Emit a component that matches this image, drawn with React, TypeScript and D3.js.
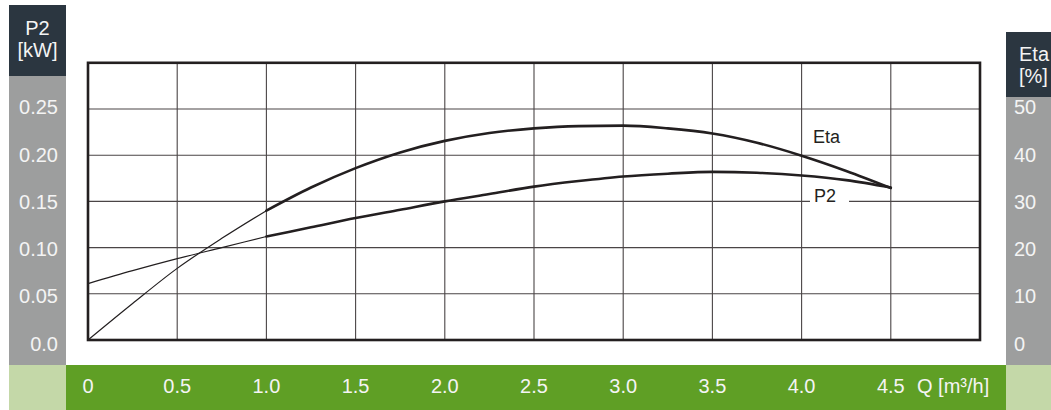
import React from 'react';
import * as d3 from 'd3';

// Pump performance: flow Q [m³/h] vs shaft power P2 [kW] and efficiency Eta [%]
const flowQ = [0, 0.25, 0.5, 0.75, 1.0, 1.25, 1.5, 1.75, 2.0, 2.25, 2.5, 2.75, 3.0, 3.25, 3.5, 3.75, 4.0, 4.25, 4.5];
const powerP2 = [0.061, 0.075, 0.088, 0.1, 0.112, 0.122, 0.132, 0.141, 0.15, 0.158, 0.166, 0.172, 0.177, 0.18, 0.182, 0.181, 0.178, 0.173, 0.165];
const efficiencyEta = [0, 7.9, 15.5, 22.0, 28.0, 33.0, 37.2, 40.6, 43.1, 44.8, 45.8, 46.3, 46.4, 45.8, 44.7, 42.7, 39.9, 36.6, 32.9];

const qTicks = [0, 0.5, 1.0, 1.5, 2.0, 2.5, 3.0, 3.5, 4.0, 4.5];
const qTickLabels = ['0', '0.5', '1.0', '1.5', '2.0', '2.5', '3.0', '3.5', '4.0', '4.5'];
const p2Ticks = [0, 0.05, 0.1, 0.15, 0.2, 0.25];
const p2TickLabels = ['0.0', '0.05', '0.10', '0.15', '0.20', '0.25'];
const etaTicks = [0, 10, 20, 30, 40, 50];
const etaTickLabels = ['0', '10', '20', '30', '40', '50'];

const FONT = "'Liberation Sans', Arial, Helvetica, sans-serif";
const DARK = '#2b3640';
const GRAY = '#9d9e9e';
const GREEN = '#5f9f25';
const LIGHT_GREEN = '#c4d8a8';
const INK = '#231f20';
const PANEL_TEXT = '#f4f4f4';

export default function App() {
  const W = 1051;
  const H = 410;

  const x = d3.scaleLinear().domain([0, 5]).range([88, 980]);
  const yP = d3.scaleLinear().domain([0, 0.3]).range([340, 62.8]);
  const yE = d3.scaleLinear().domain([0, 60]).range([340, 62.8]);
  // side-panel label placement
  const yLabelP = d3.scaleLinear().domain([0, 0.25]).range([343.5, 107]);
  const yLabelE = d3.scaleLinear().domain([0, 50]).range([343.5, 107]);

  const pts = flowQ.map((q, i) => ({ q, p: powerP2[i], e: efficiencyEta[i] }));
  const thin = pts.filter((d) => d.q <= 1.0);
  const thick = pts.filter((d) => d.q >= 1.0);

  const lineP = d3
    .line<{ q: number; p: number; e: number }>()
    .x((d) => x(d.q))
    .y((d) => yP(d.p))
    .curve(d3.curveMonotoneX);
  const lineE = d3
    .line<{ q: number; p: number; e: number }>()
    .x((d) => x(d.q))
    .y((d) => yE(d.e))
    .curve(d3.curveMonotoneX);

  const gridQ = [0.5, 1.0, 1.5, 2.0, 2.5, 3.0, 3.5, 4.0, 4.5];
  const gridP = [0.05, 0.1, 0.15, 0.2, 0.25];

  return (
    <svg
      width={W}
      height={H}
      viewBox={`0 0 ${W} ${H}`}
      style={{ position: 'absolute', left: 0, top: 0, fontFamily: FONT }}
    >
      <rect x={0} y={0} width={W} height={H} fill="#ffffff" />

      {/* left panel */}
      <rect x={9} y={5} width={57} height={71} fill={DARK} />
      <rect x={9} y={76} width={57} height={289} fill={GRAY} />
      <rect x={9} y={365} width={57} height={45} fill={LIGHT_GREEN} />
      <text x={37.5} y={35} textAnchor="middle" fontSize={20} fill={PANEL_TEXT}>P2</text>
      <text x={37.5} y={57} textAnchor="middle" fontSize={20} fill={PANEL_TEXT}>[kW]</text>
      {p2Ticks.map((v, i) => (
        <text key={`pl${i}`} x={58} y={yLabelP(v)} dy="0.36em" textAnchor="end" fontSize={20} fill={PANEL_TEXT}>
          {p2TickLabels[i]}
        </text>
      ))}

      {/* right panel */}
      <rect x={1006} y={32} width={45} height={65} fill={DARK} />
      <rect x={1006} y={97} width={45} height={268} fill={GRAY} />
      <rect x={1006} y={365} width={45} height={45} fill={LIGHT_GREEN} />
      <text x={1019} y={61} fontSize={20} fill={PANEL_TEXT}>Eta</text>
      <text x={1019} y={82.5} fontSize={20} fill={PANEL_TEXT}>[%]</text>
      {etaTicks.map((v, i) => (
        <text key={`el${i}`} x={1014} y={yLabelE(v)} dy="0.36em" fontSize={20} fill={PANEL_TEXT}>
          {etaTickLabels[i]}
        </text>
      ))}

      {/* bottom band */}
      <rect x={66} y={365} width={940} height={45} fill={GREEN} />
      {qTicks.map((v, i) => (
        <text key={`ql${i}`} x={x(v)} y={393} textAnchor="middle" fontSize={20} fill={PANEL_TEXT}>
          {qTickLabels[i]}
        </text>
      ))}
      <text x={917} y={393} fontSize={20} fill={PANEL_TEXT}>Q [m³/h]</text>

      {/* grid */}
      {gridQ.map((v) => (
        <line key={`gx${v}`} x1={x(v)} x2={x(v)} y1={yP(0.3)} y2={yP(0)} stroke="#4a4546" strokeWidth={1.1} />
      ))}
      {gridP.map((v) => (
        <line key={`gy${v}`} x1={x(0)} x2={x(5)} y1={yP(v)} y2={yP(v)} stroke="#4a4546" strokeWidth={1.1} />
      ))}

      {/* curve labels */}
      <rect x={810} y={189} width={39} height={18} fill="#ffffff" />
      <text x={813} y={142.5} fontSize={18} fill={INK}>Eta</text>
      <text x={814} y={202} fontSize={18} fill={INK}>P2</text>

      {/* curves */}
      <path d={lineP(thin) ?? ''} fill="none" stroke={INK} strokeWidth={1.2} />
      <path d={lineE(thin) ?? ''} fill="none" stroke={INK} strokeWidth={1.2} />
      <path d={lineP(thick) ?? ''} fill="none" stroke={INK} strokeWidth={2.6} strokeLinecap="round" />
      <path d={lineE(thick) ?? ''} fill="none" stroke={INK} strokeWidth={2.6} strokeLinecap="round" />

      {/* frame */}
      <rect
        x={x(0)}
        y={yP(0.3)}
        width={x(5) - x(0)}
        height={yP(0) - yP(0.3)}
        fill="none"
        stroke={INK}
        strokeWidth={2.6}
      />
    </svg>
  );
}
